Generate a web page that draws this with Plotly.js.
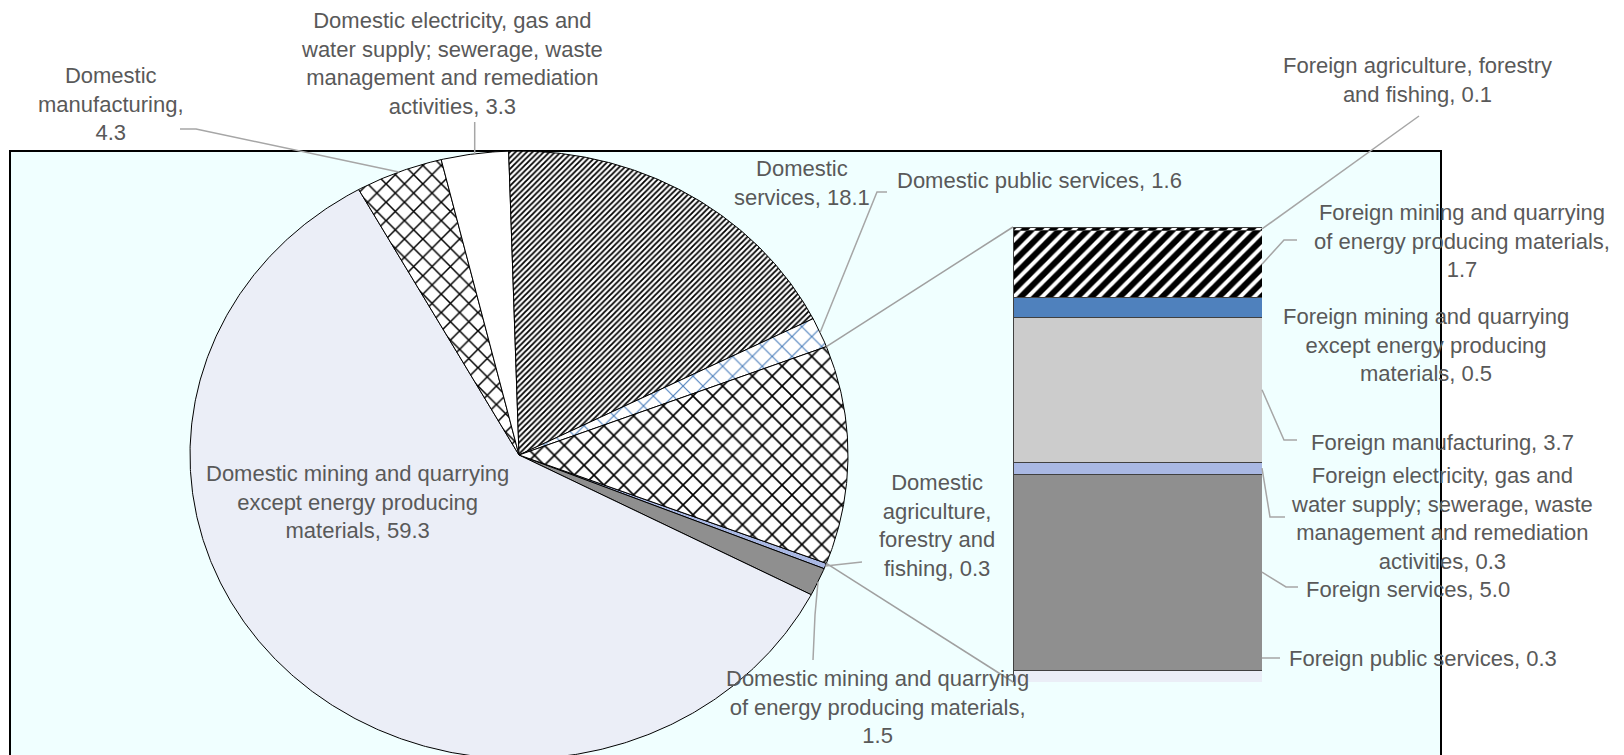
<!DOCTYPE html>
<html>
<head>
<meta charset="utf-8">
<script src="https://cdn.plot.ly/plotly-3.0.1.min.js"></script>
<style>
html,body{margin:0;padding:0;background:#ffffff;}
#chart{width:1624px;height:755px;}
</style>
</head>
<body>
<div id="chart"></div>
<script>
// ---------------- DATA ----------------
const domesticNames = [
  'Domestic agriculture, forestry and fishing',
  'Domestic mining and quarrying of energy producing materials',
  'Domestic mining and quarrying except energy producing materials',
  'Domestic manufacturing',
  'Domestic electricity, gas and water supply; sewerage, waste management and remediation activities',
  'Domestic services',
  'Domestic public services'
];
const domesticValues = [0.3, 1.5, 59.3, 4.3, 3.3, 18.1, 1.6];

const foreignNames = [
  'Foreign agriculture, forestry and fishing',
  'Foreign mining and quarrying of energy producing materials',
  'Foreign mining and quarrying except energy producing materials',
  'Foreign manufacturing',
  'Foreign electricity, gas and water supply; sewerage, waste management and remediation activities',
  'Foreign services',
  'Foreign public services'
];
const foreignValues = [0.1, 1.7, 0.5, 3.7, 0.3, 5.0, 0.3];

// label texts as wrapped in the chart ({v} = value)
const domesticLabelText = [
  'Domestic<br>agriculture,<br>forestry and<br>fishing, {v}',
  'Domestic mining and quarrying<br>of energy producing materials,<br>{v}',
  'Domestic mining and quarrying<br>except energy producing<br>materials, {v}',
  'Domestic<br>manufacturing,<br>{v}',
  'Domestic electricity, gas and<br>water supply; sewerage, waste<br>management and remediation<br>activities, {v}',
  'Domestic<br>services, {v}',
  'Domestic public services, {v}'
];
const foreignLabelText = [
  'Foreign agriculture, forestry<br>and fishing, {v}',
  'Foreign mining and quarrying<br>of energy producing materials,<br>{v}',
  'Foreign mining and quarrying<br>except energy producing<br>materials, {v}',
  'Foreign manufacturing, {v}',
  'Foreign electricity, gas and<br>water supply; sewerage, waste<br>management and remediation<br>activities, {v}',
  'Foreign services, {v}',
  'Foreign public services, {v}'
];

// ---------------- STYLES / LAYOUT CONSTANTS ----------------
const W = 1624, H = 755;
const PIE = {cx: 519, cy: 455, rx: 329, ry: 304};
const BAR = {x0: 1013, x1: 1262, y0: 227, y1: 682};
const BOX = {x0: 10, x1: 1441, y0: 151, y1: 800};
const FONT = {family: 'Liberation Sans, Arial, sans-serif', size: 22, color: '#595959'};
const LEADER = {color: '#A6A6A6', width: 1.5};

const domesticStyle = [
  {color: '#A9B8E3'},
  {color: '#8F8F8F'},
  {color: '#EBEEF7'},
  {color: '#FFFFFF', pattern: {shape: 'x', bgcolor: '#FFFFFF', fgcolor: '#000000', size: 13, solidity: 0.22}},
  {color: '#FFFFFF'},
  {color: '#FFFFFF', pattern: {shape: '/', bgcolor: '#FFFFFF', fgcolor: '#000000', size: 4, solidity: 0.45}},
  {color: '#FFFFFF', pattern: {shape: 'x', bgcolor: '#FFFFFF', fgcolor: '#4F81BD', size: 14, solidity: 0.16}}
];
const otherStyle = {color: '#FFFFFF', pattern: {shape: 'x', bgcolor: '#FFFFFF', fgcolor: '#000000', size: 14, solidity: 0.22}};
const foreignStyle = [
  {color: '#FFFFFF', pattern: {shape: '/', bgcolor: '#FFFFFF', fgcolor: '#000000', size: 10, solidity: 0.6}},
  {color: '#000000', pattern: {shape: '/', bgcolor: '#000000', fgcolor: '#FFFFFF', size: 10, solidity: 0.4}},
  {color: '#4F81BD'},
  {color: '#CCCCCC'},
  {color: '#A9B8E3'},
  {color: '#8F8F8F'},
  {color: '#EBEEF7'}
];

// label centers (pixels)
const domesticLabelPos = [[937, 525], [877, 707], [357, 502], [111, 104], [452, 64], [802, 183], [1039, 181]];
const foreignLabelPos = [[1417, 80], [1462, 241], [1426, 345], [1442, 442], [1442, 518], [1408, 589], [1423, 658]];

// ---------------- DERIVED ----------------
const sum = arr => arr.reduce((a, b) => a + b, 0);
const foreignTotal = sum(foreignValues);
const grandTotal = sum(domesticValues) + foreignTotal;
const pieValues = domesticValues.concat([foreignTotal]);
const degPer = 360 / grandTotal;
// "Other" slice centred at 3 o'clock, slices run clockwise
const startAngle = 90 + foreignTotal * degPer / 2;
let acc = startAngle;
const slices = pieValues.map(v => { const s = {a0: acc, a1: acc + v * degPer}; acc += v * degPer; s.mid = (s.a0 + s.a1) / 2; return s; });

const rad = d => d * Math.PI / 180;
const rimPx = deg => [PIE.cx + PIE.rx * Math.sin(rad(deg)), PIE.cy - PIE.ry * Math.cos(rad(deg))];
const barPxY = v => BAR.y1 - v / foreignTotal * (BAR.y1 - BAR.y0);
const segMid = i => { const above = sum(foreignValues.slice(0, i)); return barPxY(foreignTotal - above - foreignValues[i] / 2); };
const px = x => x / W, py = y => 1 - y / H;
const fmt = (t, v) => t.replace('{v}', v.toFixed(1));

// ---------------- TRACES ----------------
const traces = [];
const pieStyles = domesticStyle.concat([otherStyle]);
slices.forEach((s, i) => {
  const xs = [0], ys = [0];
  const n = Math.max(2, Math.ceil((s.a1 - s.a0) / 0.4));
  for (let k = 0; k <= n; k++) {
    const t = rad(s.a0 + (s.a1 - s.a0) * k / n);
    xs.push(Math.sin(t)); ys.push(Math.cos(t));
  }
  xs.push(0); ys.push(0);
  const st = pieStyles[i];
  const tr = {
    type: 'scatter', mode: 'lines', x: xs, y: ys, fill: 'toself',
    fillcolor: st.color, line: {color: '#000000', width: 1},
    hoverinfo: 'skip', showlegend: false, xaxis: 'x', yaxis: 'y'
  };
  if (st.pattern) tr.fillpattern = st.pattern;
  traces.push(tr);
});

for (let i = foreignValues.length - 1; i >= 0; i--) {
  const st = foreignStyle[i];
  const marker = {color: st.color, line: {color: '#404040', width: 1}};
  if (st.pattern) marker.pattern = st.pattern;
  traces.push({
    type: 'bar', x: [0], y: [foreignValues[i]], width: 1, name: foreignNames[i],
    marker: marker, xaxis: 'x2', yaxis: 'y2', hoverinfo: 'skip', showlegend: false
  });
}

// ---------------- SHAPES ----------------
const pathOf = pts => pts.map((p, k) => (k ? 'L' : 'M') + px(p[0]).toFixed(5) + ',' + py(p[1]).toFixed(5)).join(' ');
const shapes = [{
  type: 'rect', xref: 'paper', yref: 'paper', layer: 'below',
  x0: px(BOX.x0), x1: px(BOX.x1), y0: py(BOX.y1), y1: py(BOX.y0),
  fillcolor: '#F0FFFF', line: {color: '#000000', width: 2}
}];
const other = slices[slices.length - 1];
const connectors = [
  [rimPx(other.a0), [BAR.x0, BAR.y0]],
  [rimPx(other.a1), [BAR.x0, BAR.y1]]
];
connectors.forEach(pts => shapes.push({type: 'path', xref: 'paper', yref: 'paper', path: pathOf(pts), line: {color: '#A0A0A0', width: 1.5}}));

const e4 = rimPx(slices[4].mid);
const domesticLeaders = [
  [[862, 562], rimPx(slices[0].mid)],
  [[813, 660], [815, 615], rimPx(slices[1].mid)],
  [[180, 129], [196, 129], rimPx(slices[3].mid)],
  [[e4[0], 122], e4],
  [[887, 192], [877, 192], rimPx(slices[6].mid)]
];
const foreignLeaders = [
  [[1419, 116], [BAR.x1, segMid(0)]],
  [[1297, 240], [1284, 240], [BAR.x1, segMid(1)]],
  [[1297, 440], [1284, 440], [BAR.x1, segMid(3)]],
  [[1285, 517], [1270, 517], [BAR.x1, segMid(4)]],
  [[1298, 587], [1286, 587], [BAR.x1, segMid(5)]],
  [[1280, 658], [BAR.x1, 658]]
];
domesticLeaders.concat(foreignLeaders).forEach(pts => shapes.push({
  type: 'path', xref: 'paper', yref: 'paper', path: pathOf(pts), line: LEADER
}));

// ---------------- ANNOTATIONS ----------------
const annotations = [];
domesticValues.forEach((v, i) => annotations.push({
  text: fmt(domesticLabelText[i], v), x: px(domesticLabelPos[i][0]), y: py(domesticLabelPos[i][1]),
  xref: 'paper', yref: 'paper', showarrow: false, xanchor: 'center', yanchor: 'middle', align: 'center', font: FONT
}));
foreignValues.forEach((v, i) => annotations.push({
  text: fmt(foreignLabelText[i], v), x: px(foreignLabelPos[i][0]), y: py(foreignLabelPos[i][1]),
  xref: 'paper', yref: 'paper', showarrow: false, xanchor: 'center', yanchor: 'middle', align: 'center', font: FONT
}));

const hidden = {visible: false, showgrid: false, zeroline: false, fixedrange: true};
const layout = {
  width: W, height: H, margin: {l: 0, r: 0, t: 0, b: 0},
  paper_bgcolor: '#FFFFFF', plot_bgcolor: 'rgba(0,0,0,0)',
  barmode: 'stack', bargap: 0, showlegend: false,
  xaxis: Object.assign({domain: [0, 1], range: [(0 - PIE.cx) / PIE.rx, (W - PIE.cx) / PIE.rx]}, hidden),
  yaxis: Object.assign({domain: [0, 1], range: [(PIE.cy - H) / PIE.ry, PIE.cy / PIE.ry]}, hidden),
  xaxis2: Object.assign({domain: [px(BAR.x0), px(BAR.x1)], range: [-0.5, 0.5], anchor: 'y2'}, hidden),
  yaxis2: Object.assign({domain: [py(BAR.y1), py(BAR.y0)], range: [0, foreignTotal], anchor: 'x2'}, hidden),
  shapes: shapes, annotations: annotations,
  font: FONT
};
Plotly.newPlot('chart', traces, layout, {displayModeBar: false, staticPlot: true});
</script>
</body>
</html>
